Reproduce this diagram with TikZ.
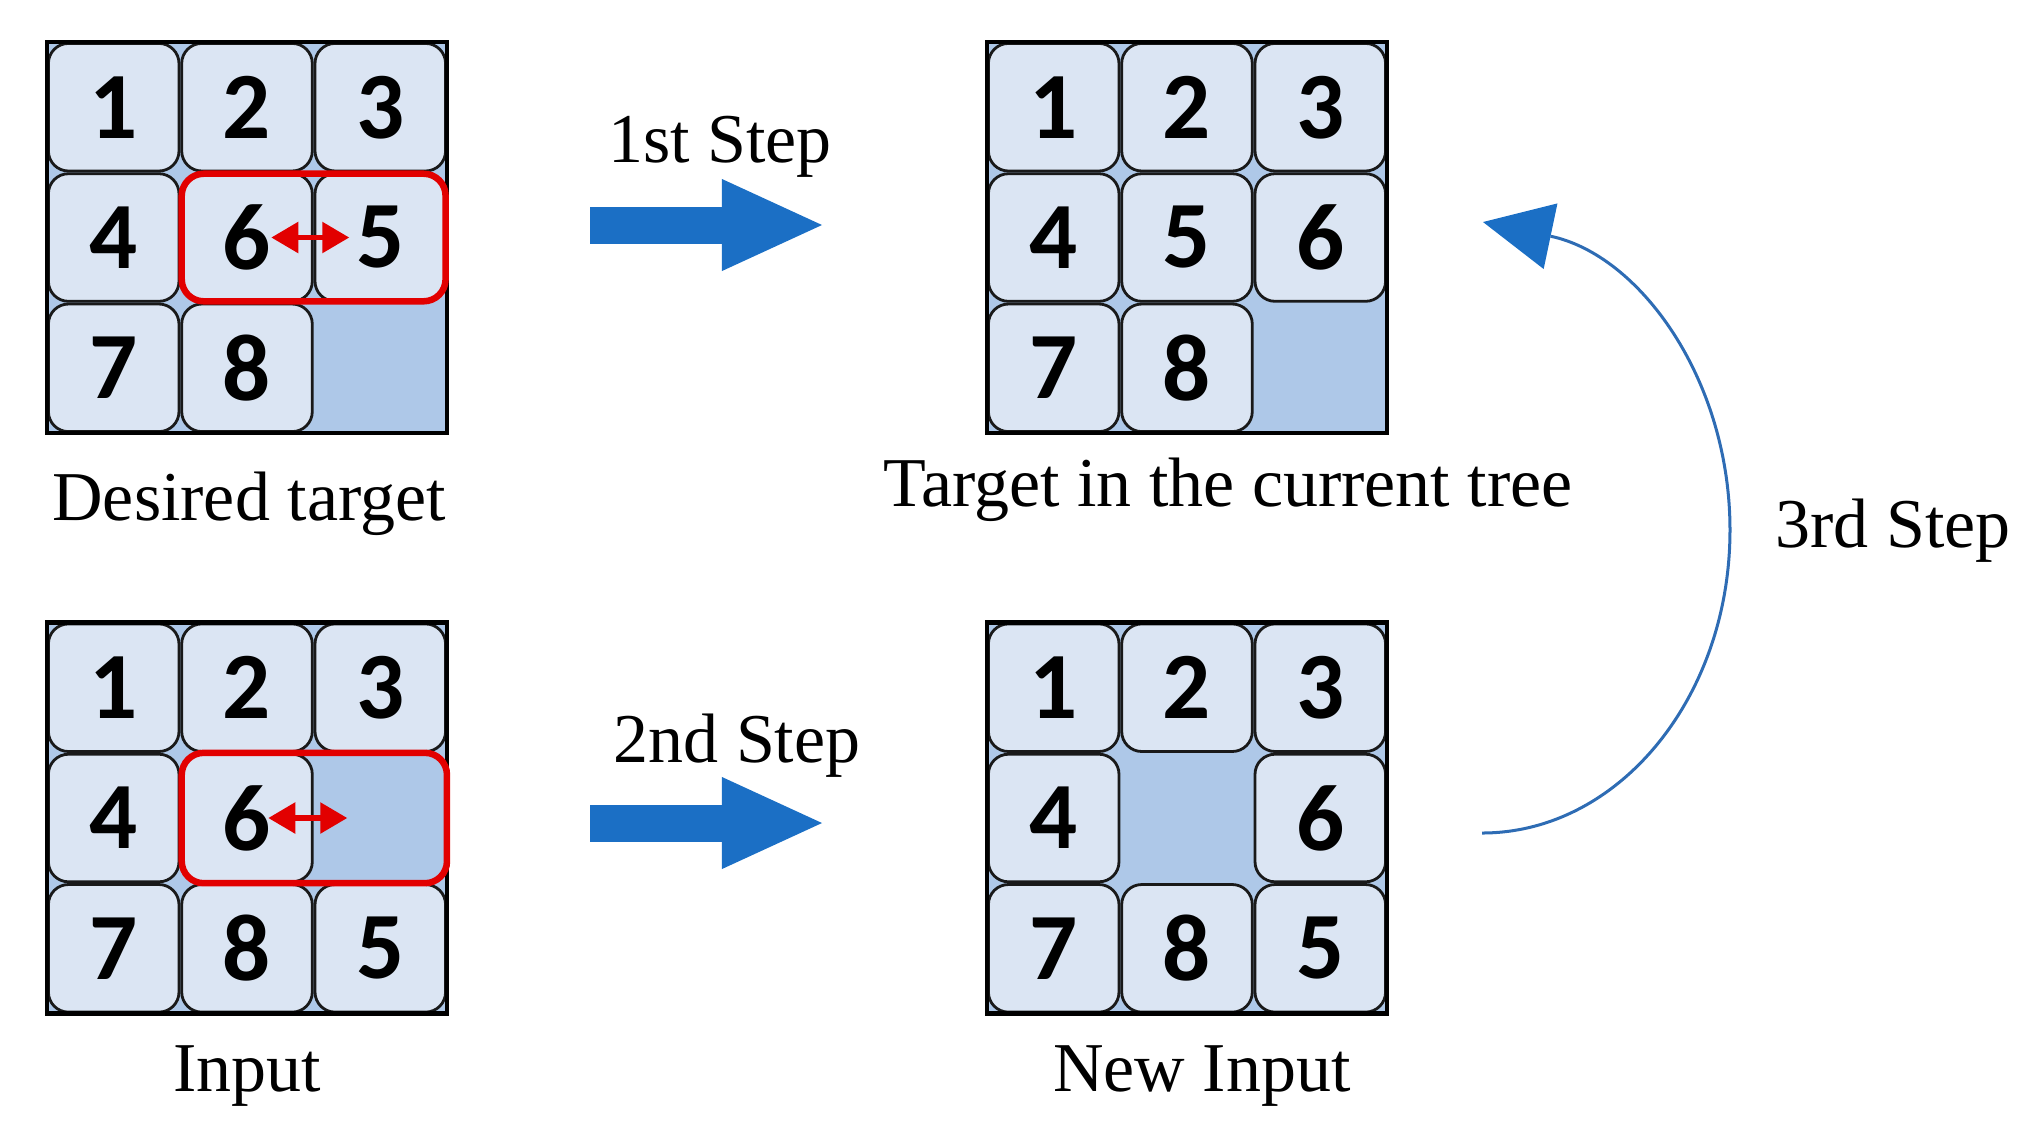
\documentclass[tikz,border=0pt]{standalone}
\usepackage{fontspec}
\setmainfont{Liberation Serif}
\newfontfamily\digitfont{Carlito}
\usetikzlibrary{arrows.meta, fit}

\definecolor{tilefill}{RGB}{219,229,243}
\definecolor{holeblue}{RGB}{174,200,232}
\definecolor{stepblue}{RGB}{27,111,197}
\definecolor{loopblue}{RGB}{46,108,180}
\definecolor{swapred}{RGB}{226,0,0}

\tikzset{
x=0.01cm, y=-0.01cm, % one unit is one pixel of the original figure
board/.style={fill=holeblue, minimum width=4cm, minimum height=3.91cm, inner sep=0pt, outer sep=0pt},
frame/.style={draw=black, line width=0.045cm},
tile/.style={draw=black!90, fill=tilefill, line width=0.028cm, rounded corners=0.2cm, minimum width=1.305cm, minimum height=1.275cm, inner sep=0pt, outer sep=0pt, font=\digitfont\bfseries\fontsize{27}{27}\selectfont},
hole/.style={minimum width=1.333cm, minimum height=1.303cm, inner sep=0pt, outer sep=0pt}, % the empty cell
swapbox/.style={draw=swapred, line width=0.065cm, rounded corners=0.22cm, inner sep=0pt},
swaparrow/.style={draw=swapred, line width=0.055cm, {Triangle[length=0.27cm,width=0.3cm]}-{Triangle[length=0.27cm,width=0.3cm]}},
steparrow/.style={draw=stepblue, line width=0.37cm, -{Triangle[length=1cm,width=0.92cm,line width=0pt]}},
looparrow/.style={draw=loopblue, line width=0.03cm, -{Triangle[length=0.69cm,width=0.67cm,fill=stepblue,line width=0pt]}},
caption/.style={anchor=base, inner sep=0pt, font=\fontsize{19.9}{24}\selectfont},
}

% #1 name, #2 centre, #3 the nine cells row by row (0 is the hole)
\newcommand{\puzzle}[3]{
  \node[board] (#1) at (#2) {};
  \foreach \d [count=\k from 0] in {#3} {
    \pgfmathtruncatemacro\cx{mod(\k,3)-1}
    \pgfmathtruncatemacro\cy{floor(\k/3)-1}
    \ifnum\d=0
      \node[hole] (#1-0) at ([shift={(\cx*133.3,\cy*130.3)}]#1) {};
    \else
      \node[tile] (#1-\d) at ([shift={(\cx*133.3,\cy*130.3)}]#1) {\d};
    \fi
  }
  \draw[frame] (#1.north west) rectangle (#1.south east);
}

\begin{document}
\begin{tikzpicture}
\useasboundingbox (0,0) rectangle (2023,1132);

% the four boards
\puzzle{goal}{247,237.5}{1,2,3,4,6,5,7,8,0}
\puzzle{tree}{1187,237.5}{1,2,3,4,5,6,7,8,0}
\puzzle{input}{247,818}{1,2,3,4,6,0,7,8,5}
\puzzle{newin}{1187,818}{1,2,3,4,0,6,7,8,5}

% swapped pair
\node[swapbox, fit=(goal-6)(goal-5)] (goalswap) {};
\draw[swaparrow] ([xshift=-0.41cm]goal-6.east) -- ([xshift=0.37cm]goal-6.east);
\node[swapbox, fit=(input-6)(input-0)] (inputswap) {};
\draw[swaparrow] ([xshift=-0.44cm]input-6.east) -- ([xshift=0.35cm]input-6.east);

% captions
\node[caption] (goallabel) at (249,520) {Desired target};
\node[caption] (treelabel) at (1228,506) {Target in the current tree};
\node[caption] (inputlabel) at (247,1091) {Input};
\node[caption] (newinlabel) at (1202,1091) {New Input};
\node[caption] (step1) at (720,162) {1st Step};
\node[caption] (step2) at (737,762) {2nd Step};
\node[caption] (step3) at (1893,547) {3rd Step};

% steps
\coordinate (s1a) at (590,225);
\coordinate (s1b) at (822,225);
\coordinate (s2a) at (590,823);
\coordinate (s2b) at (822,823);
\draw[steparrow] (s1a) -- (s1b);
\draw[steparrow] (s2a) -- (s2b);

\coordinate (loopstart) at (1482,833);
\coordinate (loopend) at (1483,222);
\draw[looparrow] (loopstart) .. controls (1619,833) and (1730,697) .. (1730,530)
  .. controls (1730,380) and (1640,255) .. (loopend);
\end{tikzpicture}
\end{document}
